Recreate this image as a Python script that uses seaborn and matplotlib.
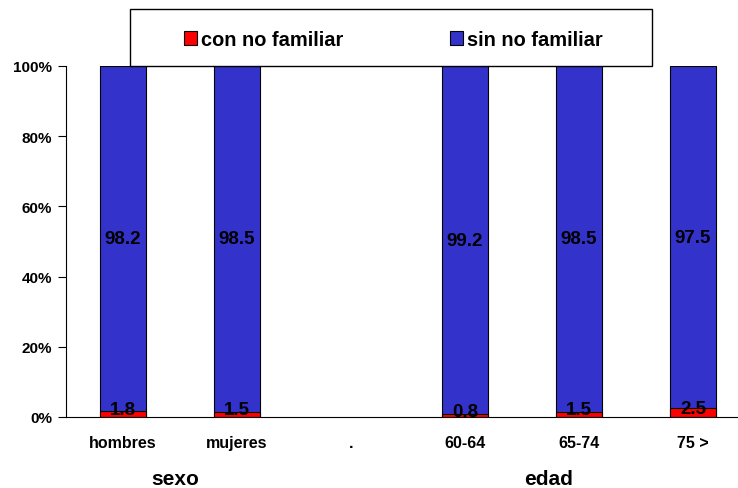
import numpy as np
import pandas as pd
import seaborn as sns
import matplotlib.pyplot as plt
from matplotlib.patches import Rectangle, Patch

categorias = ['hombres', 'mujeres', '.', '60-64', '65-74', '75 >']
con_no_familiar = [1.8, 1.5, np.nan, 0.8, 1.5, 2.5]
sin_no_familiar = [98.2, 98.5, np.nan, 99.2, 98.5, 97.5]
grupos = ['sexo', 'edad']

sns.set_style('white')
plt.rcParams['font.family'] = ['Liberation Sans', 'DejaVu Sans']
plt.rcParams['font.weight'] = 'bold'
plt.rcParams['text.color'] = 'black'
plt.rcParams['xtick.color'] = 'black'
plt.rcParams['ytick.color'] = 'black'

df = pd.DataFrame({'cat': categorias, 'con': con_no_familiar, 'sin': sin_no_familiar})
df['total'] = df['con'] + df['sin']

fig = plt.figure(figsize=(7.38, 4.89), dpi=100)
ax = fig.add_axes([66 / 738, 1 - 418 / 489, 684 / 738, 351 / 489])

# barra azul (total) y encima la parte roja
sns.barplot(data=df, x='cat', y='total', order=categorias, color='#3333CC', saturation=1,
            width=0.41, edgecolor='black', linewidth=0.8, ax=ax)
sns.barplot(data=df, x='cat', y='con', order=categorias, color='#FF0000', saturation=1,
            width=0.41, edgecolor='black', linewidth=0.8, ax=ax)

for i, (c, s) in enumerate(zip(con_no_familiar, sin_no_familiar)):
    if np.isnan(c):
        continue
    ax.text(i, c / 2, f'{c:.1f}', ha='center', va='baseline', fontsize=13.5, fontweight='bold')
    ax.text(i, c + s / 2, f'{s:.1f}', ha='center', va='center', fontsize=13.5, fontweight='bold')

ax.set_xlim(-0.5, 5.5)
ax.set_ylim(0, 100)
ax.set_yticks([0, 20, 40, 60, 80, 100])
ax.set_yticklabels(['0%', '20%', '40%', '60%', '80%', '100%'], fontsize=11, fontweight='bold')
ax.set_xticks(range(6))
ax.set_xticklabels(categorias, fontsize=11.5, fontweight='bold')
ax.set_xticks(np.arange(-0.5, 6, 1), minor=True)
ax.tick_params(axis='x', which='major', length=0, pad=13)
ax.tick_params(axis='x', which='minor', length=4, width=0.8, direction='out')
ax.tick_params(axis='y', length=6, width=0.8, direction='out', left=True, pad=4)
ax.set_xlabel('')
ax.set_ylabel('')
for side in ['top', 'right']:
    ax.spines[side].set_visible(False)
for side in ['left', 'bottom']:
    ax.spines[side].set_color('black')
    ax.spines[side].set_linewidth(0.8)

fig.text(175 / 738, 1 - 480 / 489, grupos[0], ha='center', va='center', fontsize=15, fontweight='bold')
fig.text(549 / 738, 1 - 480 / 489, grupos[1], ha='center', va='center', fontsize=15, fontweight='bold')

# caja de la leyenda
fig.patches.append(Rectangle((130 / 738, 1 - 67 / 489), 522 / 738, 57 / 489,
                             transform=fig.transFigure, facecolor='white', edgecolor='black',
                             linewidth=1, zorder=5))
handles = [Patch(facecolor='#FF0000', edgecolor='black', linewidth=0.8),
           Patch(facecolor='#3333CC', edgecolor='black', linewidth=0.8)]
leg = fig.legend(handles, ['con no familiar', 'sin no familiar'], ncol=2, frameon=False,
                 loc='center', bbox_to_anchor=(393 / 738, 1 - 40 / 489),
                 prop={'size': 14.4, 'weight': 'bold'}, handlelength=0.65, handleheight=0.7,
                 handletextpad=0.2, columnspacing=5.35)
leg.set_zorder(6)

fig.savefig('out.png', dpi=100)
